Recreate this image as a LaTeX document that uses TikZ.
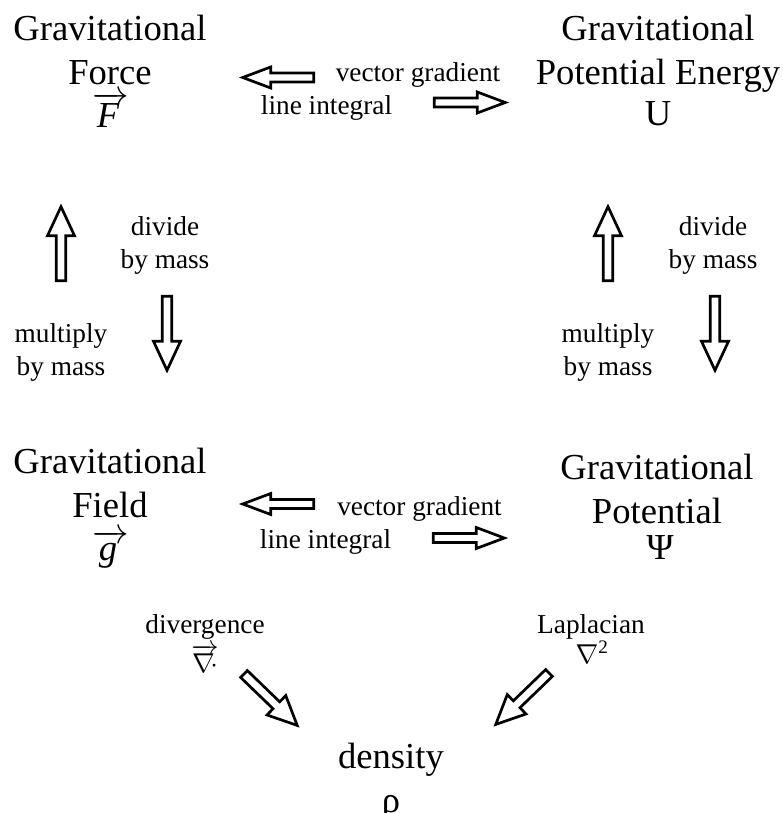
\RequirePackage{fix-cm}
\documentclass[tikz,border=0pt]{standalone}
\usepackage{fontspec}
\setmainfont{Liberation Serif}
\tikzset{
  big/.style={font=\fontsize{36.6}{43.5}\selectfont, align=center, inner sep=0pt},
  small/.style={font=\fontsize{27.3}{33}\selectfont, align=center, inner sep=0pt},
  bigsym/.style={font=\fontsize{36.6}{43.5}\selectfont, inner sep=0pt, text height=30pt, text depth=0pt},
  smallsym/.style={font=\fontsize{27.3}{33}\selectfont, inner sep=0pt, text height=22pt, text depth=0pt},
  outline/.style={draw=black, line width=2.7pt, miter limit=10, fill=white},
  flatarrow/.pic={\path[outline] (0,-4.5) -- (43,-4.5) -- (43,-10.5) -- (71,0) -- (43,10.5) -- (43,4.5) -- (0,4.5) -- cycle;},
  widearrow/.pic={\path[outline] (0,-4.8) -- (45,-4.8) -- (45,-13.5) -- (74,0) -- (45,13.5) -- (45,4.8) -- (0,4.8) -- cycle;}
}
\begin{document}
\begin{tikzpicture}[x=1pt,y=1pt]
\useasboundingbox (0,0) rectangle (783,-813);
% main quantities
\node[big, anchor=north] (force) at (110,-15) {Gravitational\\Force};
\node[bigsym, anchor=base] (forcesym) at (111,-128) {$\overrightarrow{\textit{F}\,}$};
\node[big, anchor=north] (pe) at (658,-15) {Gravitational\\Potential Energy};
\node[bigsym, anchor=base] (pesym) at (658,-126) {U};
\node[big, anchor=north] (field) at (110,-448) {Gravitational\\Field};
\node[bigsym, anchor=base, text depth=8pt, text height=26pt] (fieldsym) at (111,-560) {$\overrightarrow{\textit{g}\,}$};
\node[big, anchor=north] (pot) at (657,-454) {Gravitational\\Potential};
\node[bigsym, anchor=base, text height=25pt] (potsym) at (660,-559) {Ψ};
\node[big, anchor=north] (rho) at (391,-743) {density\\ρ};
% operation labels
\node[small, anchor=base] (vg1) at (418,-82) {vector gradient};
\node[small, anchor=base] (li1) at (326.5,-115) {line integral};
\node[small, anchor=base] (vg2) at (419.5,-515) {vector gradient};
\node[small, anchor=base] (li2) at (325.5,-548) {line integral};
\node[small, anchor=north] (div1) at (165,-216.4) {divide\\by mass};
\node[small, anchor=north] (mul1) at (61,-323.4) {multiply\\by mass};
\node[small, anchor=north] (div2) at (713,-216.4) {divide\\by mass};
\node[small, anchor=north] (mul2) at (608,-323.4) {multiply\\by mass};
\node[small, anchor=base] (dv) at (205,-633) {divergence};
\node[smallsym, anchor=base, text height=26pt] (dvsym) at (205,-672) {$\overrightarrow{\nabla\!\cdot}$};
\node[small, anchor=base] (lap) at (591,-633) {Laplacian};
\node[smallsym, anchor=base, text height=18pt] (lapsym) at (592,-663) {$\nabla$\textsuperscript{2}};
% hollow arrows
\pic[rotate=180] at (313.7,-77.5) {flatarrow};
\pic at (434.3,-102.5) {flatarrow};
\pic[rotate=180] at (313.7,-504) {flatarrow};
\pic at (433.3,-538) {flatarrow};
\pic[rotate=90] at (61,-280.7) {widearrow};
\pic[rotate=-90] at (167,-296.3) {widearrow};
\pic[rotate=90] at (608,-280.7) {widearrow};
\pic[rotate=-90] at (715,-296.3) {widearrow};
\pic[rotate=-44] at (244,-674) {widearrow};
\pic[rotate=-136] at (549,-673) {widearrow};
\end{tikzpicture}
\end{document}
